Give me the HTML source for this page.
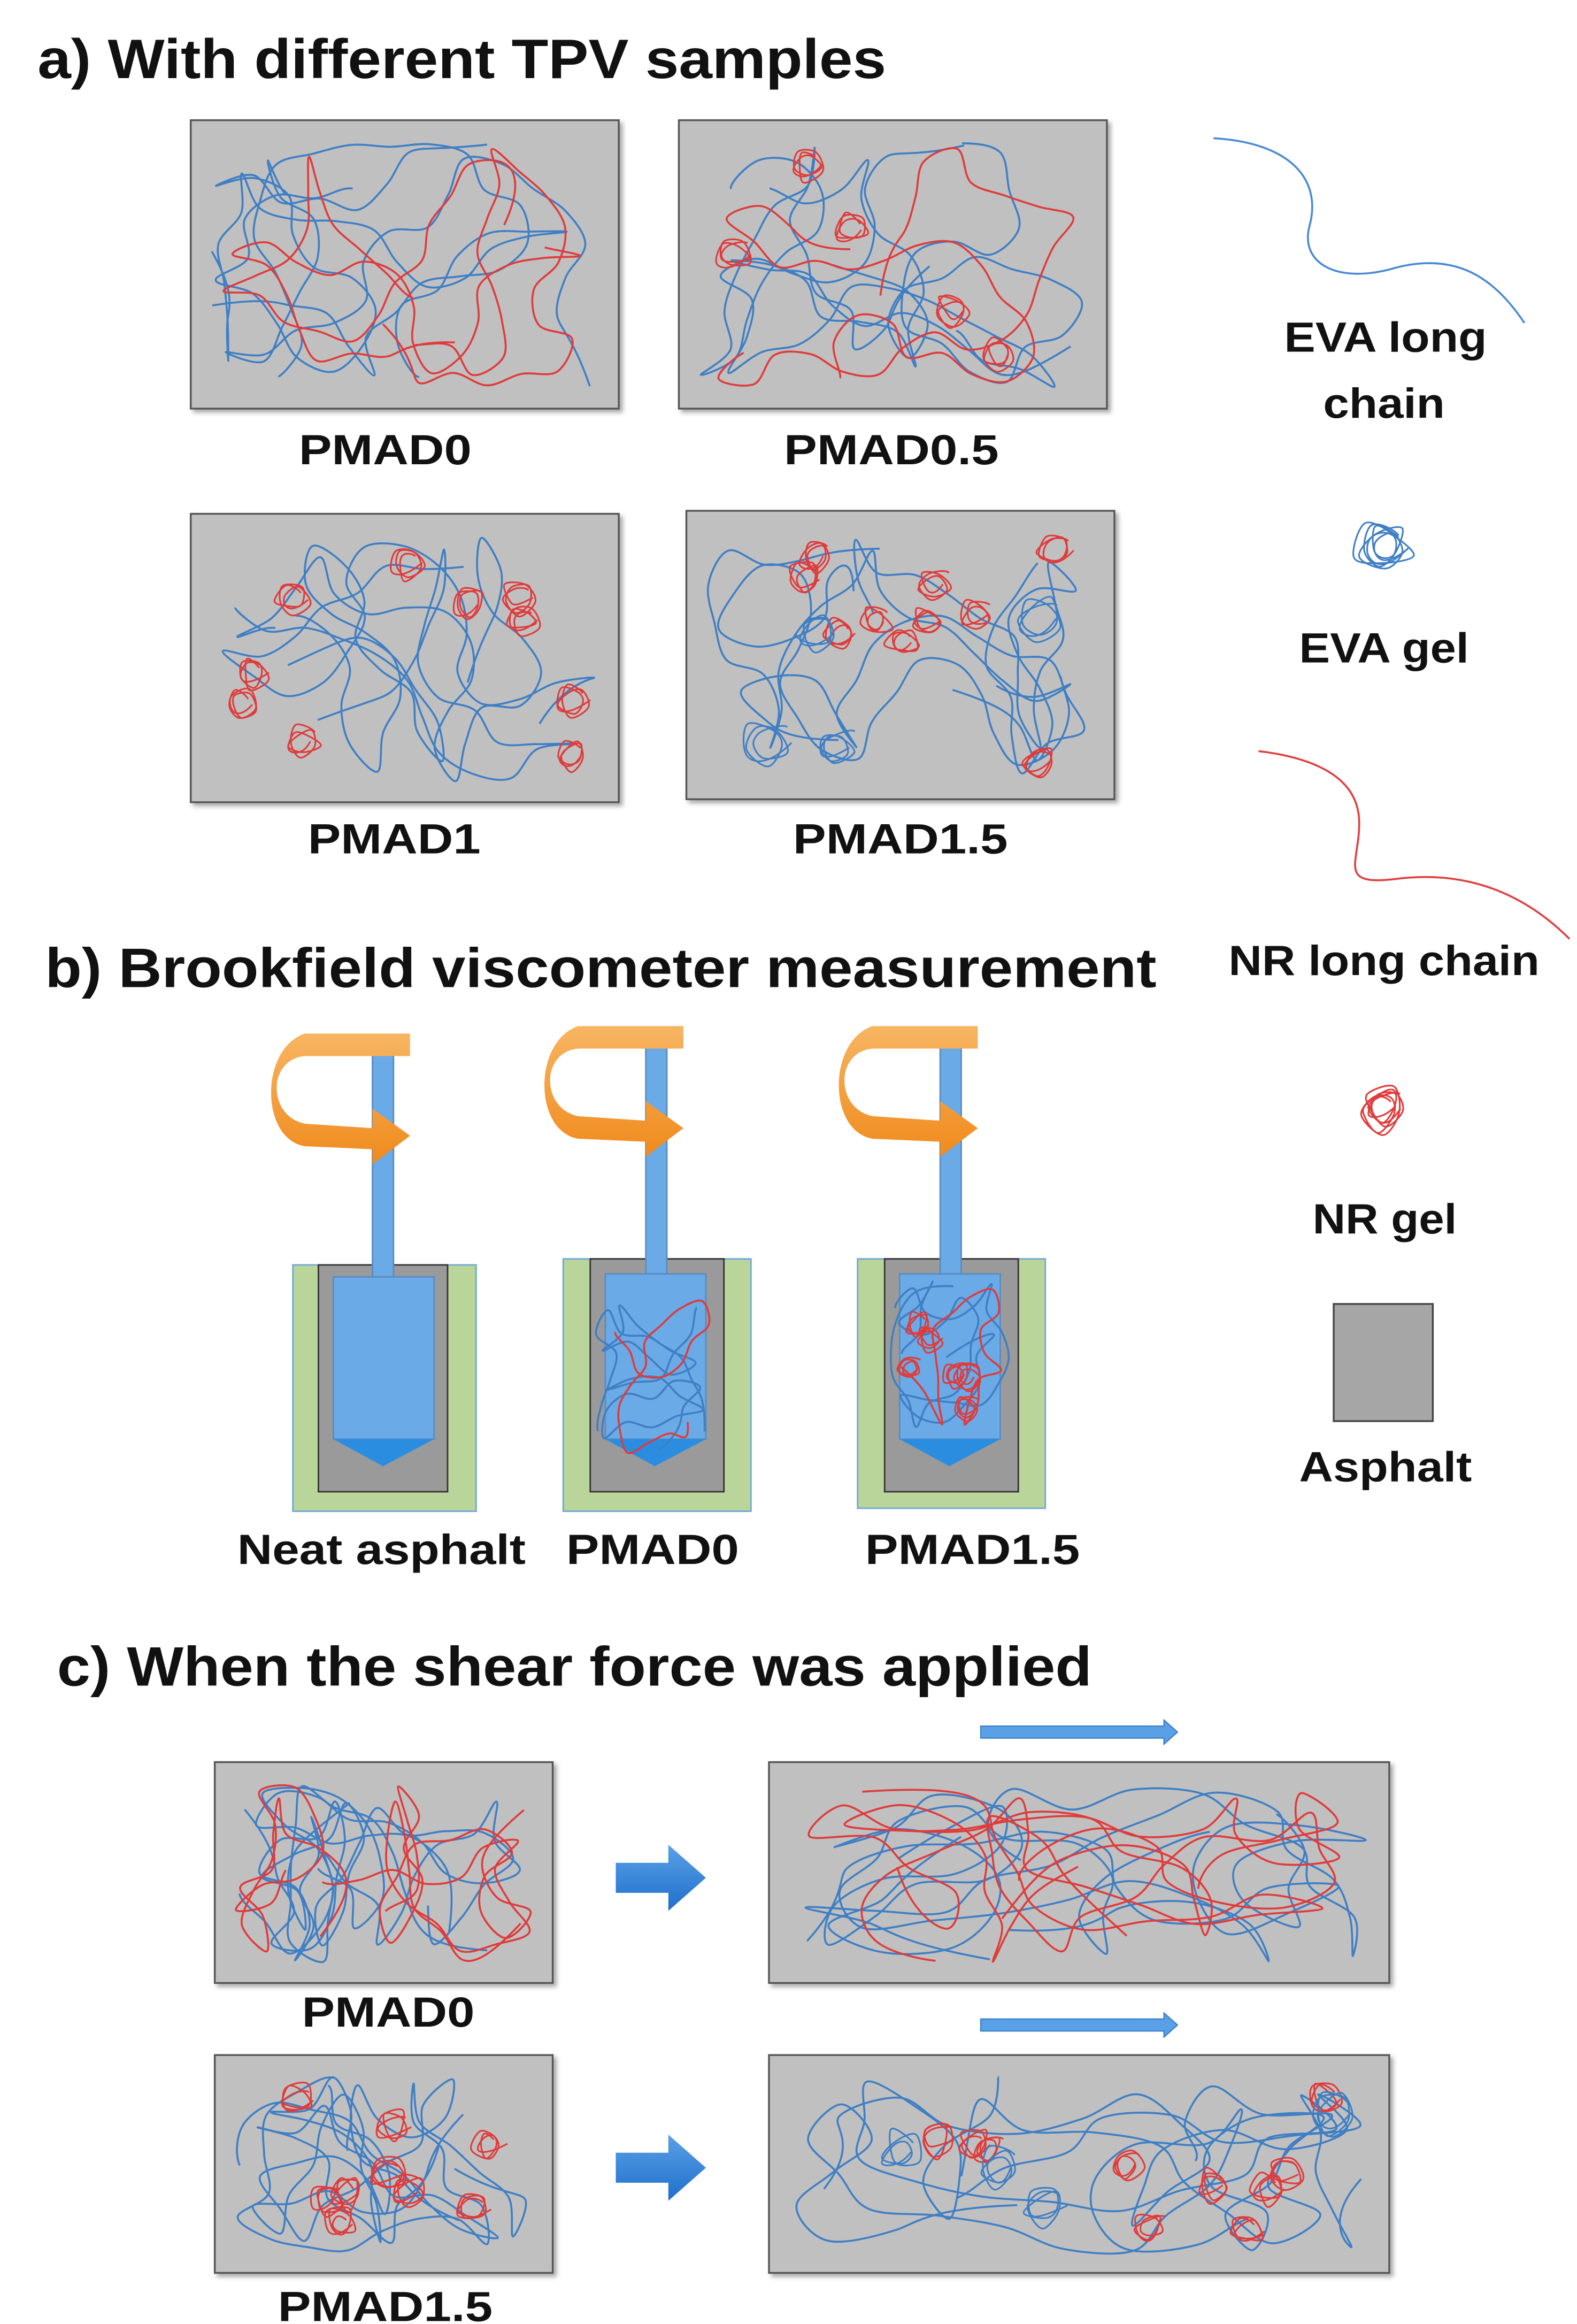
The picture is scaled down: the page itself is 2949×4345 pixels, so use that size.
<!DOCTYPE html>
<html><head><meta charset="utf-8"><style>
html,body{margin:0;padding:0;background:#fff;}
svg{display:block;}
text{font-family:"Liberation Sans",sans-serif;font-weight:bold;fill:#111;}
</style></head><body>
<svg id="s" width="2949" height="4345" viewBox="0 0 1050 1547" xmlns="http://www.w3.org/2000/svg">
<defs>
<filter id="sh" x="-5%" y="-5%" width="115%" height="115%"><feDropShadow dx="2" dy="2" stdDeviation="1.5" flood-color="#000" flood-opacity="0.35"/></filter>
<linearGradient id="or" x1="0" y1="0" x2="0" y2="1"><stop offset="0" stop-color="#f7b562"/><stop offset="1" stop-color="#f08a1c"/></linearGradient>
<linearGradient id="ba" x1="0" y1="0" x2="0" y2="1"><stop offset="0" stop-color="#5aa0e6"/><stop offset="1" stop-color="#1f6fcc"/></linearGradient>
</defs>
<rect width="1050" height="1547" fill="#fff"/>
<text x="25" y="52" font-size="37" textLength="565" lengthAdjust="spacingAndGlyphs">a) With different TPV samples</text>
<g fill="#c0c0c0" stroke="#555" stroke-width="1.2" filter="url(#sh)">
<rect x="127" y="80" width="285" height="192"/>
<rect x="452" y="80" width="285" height="192"/>
<rect x="127" y="342" width="285" height="192"/>
<rect x="457" y="340" width="285" height="192"/>
<rect x="143" y="1173" width="225" height="147"/>
<rect x="512" y="1173" width="413" height="147"/>
<rect x="143" y="1368" width="225" height="145"/>
<rect x="512" y="1368" width="413" height="145"/>
</g>
<g font-size="28" text-anchor="start">
<text x="199" y="309" textLength="115" lengthAdjust="spacingAndGlyphs">PMAD0</text>
<text x="522" y="309" textLength="143" lengthAdjust="spacingAndGlyphs">PMAD0.5</text>
<text x="205" y="568" textLength="115" lengthAdjust="spacingAndGlyphs">PMAD1</text>
<text x="528" y="568" textLength="143" lengthAdjust="spacingAndGlyphs">PMAD1.5</text>
<text x="855" y="234" textLength="135" lengthAdjust="spacingAndGlyphs">EVA long</text>
<text x="881" y="278" textLength="81" lengthAdjust="spacingAndGlyphs">chain</text>
<text x="865" y="441" textLength="113" lengthAdjust="spacingAndGlyphs">EVA gel</text>
<text x="818" y="649" textLength="207" lengthAdjust="spacingAndGlyphs">NR long chain</text>
<text x="874" y="821" textLength="96" lengthAdjust="spacingAndGlyphs">NR gel</text>
<text x="865" y="986" textLength="115" lengthAdjust="spacingAndGlyphs">Asphalt</text>
<text x="158" y="1041" textLength="192" lengthAdjust="spacingAndGlyphs">Neat asphalt</text>
<text x="377" y="1041" textLength="115" lengthAdjust="spacingAndGlyphs">PMAD0</text>
<text x="576" y="1041" textLength="143" lengthAdjust="spacingAndGlyphs">PMAD1.5</text>
<text x="201" y="1349" textLength="115" lengthAdjust="spacingAndGlyphs">PMAD0</text>
<text x="185" y="1545" textLength="143" lengthAdjust="spacingAndGlyphs">PMAD1.5</text>
</g>
<text x="30" y="657" font-size="37" textLength="740" lengthAdjust="spacingAndGlyphs">b) Brookfield viscometer measurement</text>
<text x="38" y="1122" font-size="37" textLength="689" lengthAdjust="spacingAndGlyphs">c) When the shear force was applied</text>
<path d="M808,92 C860,95 880,120 872,150 C865,175 890,190 930,178 C970,168 995,185 1015,215" fill="none" stroke="#4a8ad6" stroke-width="1.3"/>
<path d="M838,500 C880,505 905,520 905,548 C905,575 890,590 930,585 C970,580 1010,590 1045,625" fill="none" stroke="#e04040" stroke-width="1.3"/>
<rect x="888" y="868" width="66" height="78" fill="#a6a6a6" stroke="#444" stroke-width="1.2"/>
<g>
<rect x="195" y="842" width="122" height="164" fill="#b9d59a" stroke="#6fa8d8"/>
<rect x="212" y="842" width="86" height="151" fill="#9a9a9a" stroke="#333"/>
<rect x="375" y="838" width="125" height="168" fill="#b9d59a" stroke="#6fa8d8"/>
<rect x="393" y="838" width="89" height="155" fill="#9a9a9a" stroke="#333"/>
<rect x="571" y="838" width="125" height="166" fill="#b9d59a" stroke="#6fa8d8"/>
<rect x="589" y="838" width="89" height="155" fill="#9a9a9a" stroke="#333"/>
<g fill="#6aaae6" stroke="#5a8cc0">
<rect x="248" y="693" width="14" height="157"/><rect x="222" y="850" width="67" height="108"/>
<rect x="430" y="688" width="14" height="160"/><rect x="403" y="848" width="67" height="110"/>
<rect x="626" y="688" width="14" height="160"/><rect x="599" y="848" width="67" height="110"/>
</g>
<g fill="#2b8de0"><path d="M222,958 H289 L255,976Z"/><path d="M403,958 H470 L436,976Z"/><path d="M599,958 H666 L632,976Z"/></g>
</g>
<g id="arrows" fill="url(#or)"></g>
<g id="tg"></g>
<path d="M410,1240 H445 V1228 L470,1250 L445,1272 V1260 H410Z" fill="url(#ba)"/>
<path d="M410,1433 H445 V1421 L470,1443 L445,1465 V1453 H410Z" fill="url(#ba)"/>
<path d="M653,1149 H775 V1145 L784,1153 L775,1161 V1157 H653Z" fill="#5aa0e6" stroke="#3a80c8" stroke-width="0.8"/>
<path d="M653,1344 H775 V1340 L784,1348 L775,1356 V1352 H653Z" fill="#5aa0e6" stroke="#3a80c8" stroke-width="0.8"/>
</svg>
<script>
var NS="http://www.w3.org/2000/svg",tg=document.getElementById("tg");
var seed=11;function R(){seed=(seed*16807)%2147483647;return seed/2147483647;}
function path(pts,col,w){var d="M"+pts[0][0].toFixed(1)+","+pts[0][1].toFixed(1);
for(var i=1;i<pts.length-2;i++){var p0=pts[i-1],p1=pts[i],p2=pts[i+1],p3=pts[i+2];
d+=" C"+(p1[0]+(p2[0]-p0[0])/6).toFixed(1)+","+(p1[1]+(p2[1]-p0[1])/6).toFixed(1)+" "+(p2[0]-(p3[0]-p1[0])/6).toFixed(1)+","+(p2[1]-(p3[1]-p1[1])/6).toFixed(1)+" "+p2[0].toFixed(1)+","+p2[1].toFixed(1);}
var e=document.createElementNS(NS,"path");e.setAttribute("d",d);e.setAttribute("fill","none");e.setAttribute("stroke",col);e.setAttribute("stroke-width",w||1.3);tg.appendChild(e);}
function chain(x,y,w,h,n,col,step,sx){sx=sx||1;var px=x+R()*w,py=y+R()*h,a=R()*6.28,pts=[[px,py]];
for(var i=0;i<n;i++){a+=(R()-0.5)*2.2;var nx=px+Math.cos(a)*step*sx,ny=py+Math.sin(a)*step;
if(nx<x||nx>x+w){a=Math.PI-a;nx=px+Math.cos(a)*step*sx;}if(ny<y||ny>y+h){a=-a;ny=py+Math.sin(a)*step;}
nx=Math.max(x,Math.min(x+w,nx));ny=Math.max(y,Math.min(y+h,ny));px=nx;py=ny;pts.push([px,py]);}
path(pts,col);}
function gel(cx,cy,r,col){var pts=[];for(var i=0;i<16;i++){var a=i*1.3,rr=r*(0.35+R()*0.65);pts.push([cx+Math.cos(a)*rr,cy+Math.sin(a)*rr]);}path(pts,col,1.1);}
var B="#3f7fc4",Rd="#e03b3b";
function box(x,y,w,h,nr,ng,eg,sx){var m=14;for(var k=0;k<4;k++)chain(x+m,y+m,w-2*m,h-2*m,26,B,26,sx);
for(var k=0;k<nr;k++)chain(x+m,y+m,w-2*m,h-2*m,24,Rd,24,sx);
for(var k=0;k<ng;k++)gel(x+25+R()*(w-50),y+25+R()*(h-50),13,Rd);
for(var k=0;k<eg;k++)gel(x+30+R()*(w-60),y+25+R()*(h-50),18,B);}
box(127,80,285,192,3,0,0);box(452,80,285,192,2,5,0);
box(127,342,285,192,0,10,0);box(457,340,285,192,0,10,4);
box(143,1173,225,147,3,0,0);box(143,1368,225,145,0,9,0);
box(512,1173,413,147,4,0,0,1.8);box(512,1368,413,145,0,10,4,1.8);
gel(920,365,22,B);gel(922,365,18,B);gel(920,738,18,Rd);gel(922,736,15,Rd);
function vt(x,y,w,h,g){chain(x,y,w,h,22,B,18);chain(x,y,w,h,22,B,18);chain(x,y,w,h,20,Rd,16);for(var i=0;i<g;i++)gel(x+10+R()*(w-20),y+15+R()*(h-30),10,Rd);}
vt(395,858,80,110,0);vt(593,850,80,110,6);
var ar=document.getElementById("arrows");
[[183,693],[365,688],[561,688]].forEach(function(p){var x=p[0],y=p[1];var e=document.createElementNS(NS,"path");
e.setAttribute("d","M"+(x+90)+","+(y+10)+" L"+(x+20)+","+(y+10)+" C"+(x-5)+","+(y+12)+" "+(x-5)+","+(y+50)+" "+(x+20)+","+(y+55)+" L"+(x+65)+","+(y+58)+" L"+(x+65)+","+(y+45)+" L"+(x+90)+","+(y+63)+" L"+(x+65)+","+(y+82)+" L"+(x+65)+","+(y+72)+" L"+(x+20)+","+(y+70)+" C"+(x-10)+","+(y+65)+" "+(x-10)+","+(y+5)+" "+(x+20)+","+(y-5)+" L"+(x+90)+","+(y-5)+"Z");
ar.appendChild(e);});
</script>
</body></html>
